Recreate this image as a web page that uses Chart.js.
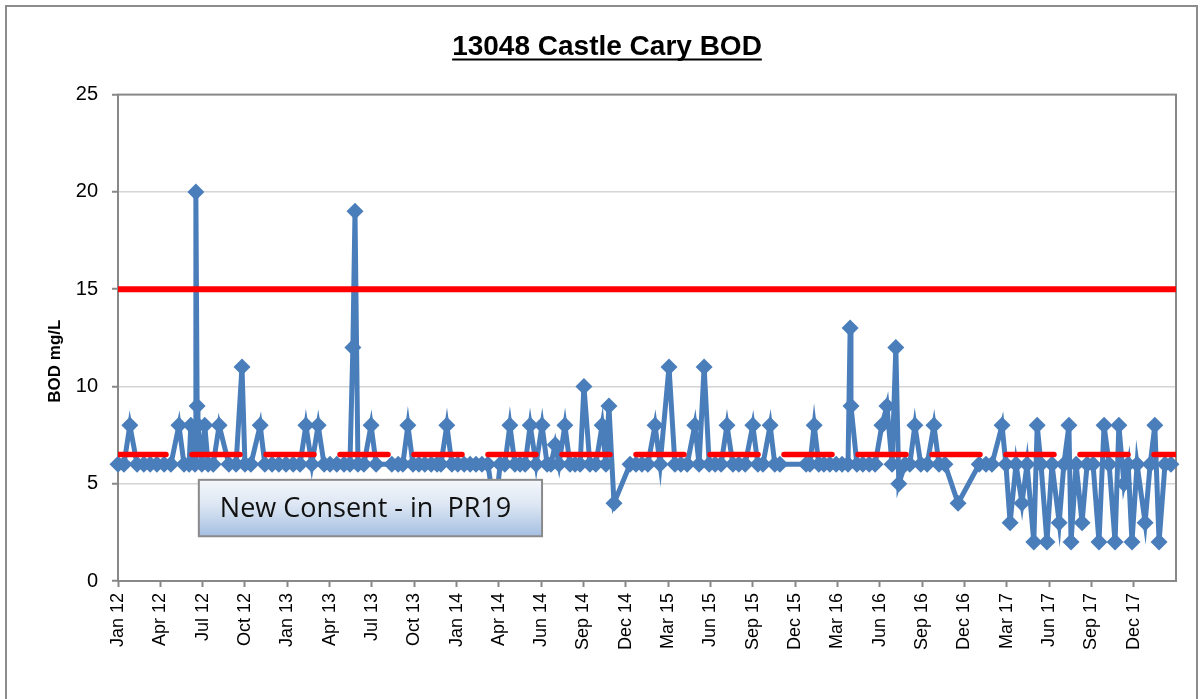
<!DOCTYPE html>
<html>
<head>
<meta charset="utf-8">
<title>13048 Castle Cary BOD</title>
<script src="https://cdn.jsdelivr.net/npm/chart.js@4.4.1/dist/chart.umd.min.js"></script>
<style>
  body { margin: 0; background: #fff; }
  #bod-chart { display: block; }
</style>
</head>
<body>
<canvas id="bod-chart" width="1203" height="699"></canvas>
<script>
// axis labels, one per major tick
const tickLabels = ['Jan 12', 'Apr 12', 'Jul 12', 'Oct 12', 'Jan 13', 'Apr 13', 'Jul 13', 'Oct 13',
  'Jan 14', 'Apr 14', 'Jun 14', 'Sep 14', 'Dec 14', 'Mar 15', 'Jun 15', 'Sep 15', 'Dec 15',
  'Mar 16', 'Jun 16', 'Sep 16', 'Dec 16', 'Mar 17', 'Jun 17', 'Sep 17', 'Dec 17'];

// sample position along the axis (1 unit = one labelled tick) and BOD result in mg/L
const sampleT = [
  0.00, 0.14, 0.28, 0.45, 0.61, 0.76, 0.92, 1.09, 1.25, 1.44, 1.56, 1.68, 1.72, 1.82, 1.84, 1.87,
  1.89, 1.98, 2.05, 2.13, 2.25, 2.39, 2.62, 2.79, 2.93, 3.00, 3.14, 3.36, 3.47, 3.64, 3.80, 3.97,
  4.14, 4.30, 4.44, 4.58, 4.73, 4.87, 5.01, 5.17, 5.34, 5.48, 5.55, 5.60, 5.67, 5.81, 5.98, 6.10,
  6.47, 6.62, 6.73, 6.85, 6.97, 7.11, 7.25, 7.40, 7.54, 7.63, 7.77, 7.89, 8.03, 8.18, 8.32, 8.46,
  8.60, 8.74, 8.91, 9.03, 9.14, 9.26, 9.38, 9.50, 9.62, 9.74, 9.88, 10.02, 10.14, 10.23, 10.33, 10.42,
  10.56, 10.68, 10.80, 10.92, 11.01, 11.15, 11.29, 11.44, 11.53, 11.60, 11.72, 12.10, 12.24, 12.38, 12.52, 12.69,
  12.81, 13.02, 13.16, 13.30, 13.45, 13.63, 13.73, 13.85, 13.97, 14.11, 14.25, 14.39, 14.53, 14.67, 14.82, 15.00,
  15.12, 15.24, 15.41, 15.52, 15.64, 16.26, 16.35, 16.45, 16.56, 16.68, 16.82, 16.97, 17.11, 17.25, 17.30, 17.32,
  17.46, 17.60, 17.75, 17.89, 18.05, 18.17, 18.29, 18.38, 18.45, 18.60, 18.71, 18.83, 18.97, 19.12, 19.28, 19.40,
  19.54, 19.85, 20.35, 20.51, 20.65, 20.89, 20.98, 21.08, 21.22, 21.36, 21.48, 21.64, 21.72, 21.81, 21.95, 22.07,
  22.24, 22.35, 22.47, 22.52, 22.64, 22.78, 22.90, 23.04, 23.18, 23.30, 23.42, 23.56, 23.65, 23.77, 23.87, 23.96,
  24.08, 24.27, 24.39, 24.50, 24.60, 24.74, 24.88
];
const bod = [
  6, 6, 8, 6, 6, 6, 6, 6, 6, 8, 6, 6, 8, 6, 20, 9,
  8, 6, 8, 6, 6, 8, 6, 6, 11, 6, 6, 8, 6, 6, 6, 6,
  6, 6, 8, 6, 8, 6, 6, 6, 6, 6, 12, 19, 6, 6, 8, 6,
  6, 6, 6, 8, 6, 6, 6, 6, 6, 6, 8, 6, 6, 6, 6, 6,
  6, 6, 3.5, 6, 6, 8, 6, 6, 6, 8, 6, 8, 6, 6, 7, 6,
  8, 6, 6, 6, 10, 6, 6, 8, 6, 9, 4, 6, 6, 6, 6, 8,
  6, 11, 6, 6, 6, 8, 6, 11, 6, 6, 6, 8, 6, 6, 6, 8,
  6, 6, 8, 6, 6, 6, 6, 8, 6, 6, 6, 6, 6, 6, 13, 9,
  6, 6, 6, 6, 8, 9, 6, 12, 5, 6, 6, 8, 6, 6, 8, 6,
  6, 4, 6, 6, 6, 8, 6, 3, 6, 4, 6, 2, 8, 6, 2, 6,
  3, 6, 8, 2, 6, 3, 6, 6, 2, 8, 6, 2, 8, 5, 6, 2,
  6, 3, 6, 8, 2, 6, 6
];

const currentConsent = 15;   // mg/L
const newConsent = 6.5;      // mg/L, PR19
const axisEnd = tickLabels.length;

const blue = '#4a7ebb';
const red = '#ff0000';
const frameGrey = '#888888';
const arial = 'Arial, "Liberation Sans", sans-serif';

const canvas = document.getElementById('bod-chart');
const ctx = canvas.getContext('2d');

// plot frame, outer border, title underline, y title and the callout box
const decorations = {
  id: 'decorations',
  beforeDatasetsDraw(chart) {
    const a = chart.chartArea;
    const c = chart.ctx;
    c.save();
    c.strokeStyle = frameGrey;
    c.lineWidth = 2;
    c.strokeRect(a.left, a.top, a.right - a.left, a.bottom - a.top);
    c.restore();
  },
  afterDraw(chart) {
    const c = chart.ctx;
    const x = chart.scales.x;
    const y = chart.scales.y;
    c.save();

    // outer chart border
    c.strokeStyle = '#8c8c8c';
    c.lineWidth = 2;
    c.strokeRect(6, 6, 1191, 760);

    // underline the title
    const tb = chart.titleBlock;
    const titleFont = chart.options.plugins.title.font;
    c.font = `bold ${titleFont.size}px ${titleFont.family}`;
    const tw = c.measureText(chart.options.plugins.title.text).width;
    const cx = (tb.left + tb.right) / 2;
    const uy = tb.top + tb.options.padding.top + titleFont.size * 1.2 / 2 + titleFont.size * 0.45;
    c.strokeStyle = '#000';
    c.lineWidth = 2;
    c.beginPath();
    c.moveTo(cx - tw / 2, uy);
    c.lineTo(cx + tw / 2, uy);
    c.stroke();

    // y axis title, sitting a little below the middle of the axis as in the original
    c.save();
    c.translate(55, y.getPixelForValue(11.3));
    c.rotate(-Math.PI / 2);
    c.font = `bold 17px ${arial}`;
    c.fillStyle = '#000';
    c.textAlign = 'center';
    c.textBaseline = 'middle';
    c.fillText('BOD mg/L', 0, 0);
    c.restore();

    // "New Consent" callout
    const bx0 = x.getPixelForValue(1.91), bx1 = x.getPixelForValue(10.02);
    const by0 = y.getPixelForValue(5.2), by1 = y.getPixelForValue(2.3);
    const g = c.createLinearGradient(0, by0, 0, by1);
    g.addColorStop(0, '#f4f7fb');
    g.addColorStop(0.45, '#dce6f3');
    g.addColorStop(1, '#a4bfe1');
    c.fillStyle = g;
    c.fillRect(bx0, by0, bx1 - bx0, by1 - by0);
    c.strokeStyle = '#8a8a8a';
    c.lineWidth = 2;
    c.strokeRect(bx0, by0, bx1 - bx0, by1 - by0);
    c.fillStyle = '#111';
    c.font = '27px "Open Sans"';
    c.textBaseline = 'middle';
    c.fillText('New Consent - in  PR19', bx0 + 21, (by0 + by1) / 2 + 1);
    c.restore();
  }
};

new Chart(ctx, {
  type: 'line',
  data: {
    datasets: [
      {
        label: 'Current consent',
        data: [{ x: 0, y: currentConsent }, { x: axisEnd, y: currentConsent }],
        borderColor: red,
        borderWidth: 6,
        pointRadius: 0,
        order: 0
      },
      {
        label: 'New consent',
        data: [{ x: 0, y: newConsent }, { x: axisEnd, y: newConsent }],
        borderColor: red,
        borderWidth: 5.5,
        borderDash: [48, 26],
        borderCapStyle: 'round',
        pointRadius: 0,
        order: 1
      },
      {
        label: 'BOD',
        data: sampleT.map((t, i) => ({ x: t, y: bod[i] })),
        borderColor: blue,
        backgroundColor: blue,
        borderWidth: 5,
        pointStyle: 'rectRot',
        pointRadius: 8.5,
        pointBorderWidth: 0,
        tension: 0,
        clip: false,
        order: 2
      }
    ]
  },
  options: {
    responsive: false,
    animation: false,
    layout: { padding: { left: 38, right: 27, top: 0, bottom: 0 } },
    plugins: {
      legend: { display: false },
      tooltip: { enabled: false },
      title: {
        display: true,
        text: '13048 Castle Cary BOD',
        color: '#000',
        font: { family: arial, size: 28, weight: 'bold' },
        padding: { top: 30, bottom: 31 }
      }
    },
    scales: {
      x: {
        type: 'linear',
        min: 0,
        max: axisEnd,
        afterBuildTicks(scale) {
          scale.ticks = tickLabels.map((_, i) => ({ value: i }));
        },
        afterFit(scale) { scale.height = 118; },
        ticks: {
          autoSkip: false,
          minRotation: 90,
          maxRotation: 90,
          padding: 6,
          color: '#000',
          font: { family: arial, size: 18 },
          callback: (v) => tickLabels[v] || ''
        },
        grid: { drawOnChartArea: false, drawTicks: true, tickLength: 6, tickColor: frameGrey, tickWidth: 2 },
        border: { color: frameGrey, width: 2 }
      },
      y: {
        min: 0,
        max: 25,
        afterFit(scale) { scale.width = 80; },
        ticks: {
          stepSize: 5,
          padding: 14,
          color: '#000',
          font: { family: arial, size: 20 }
        },
        grid: {
          color: (c) => (c.tick.value === 0 || c.tick.value === 25) ? 'rgba(0,0,0,0)' : '#d4d4d4',
          lineWidth: 1.5,
          drawTicks: true,
          tickLength: 6,
          tickColor: frameGrey,
          tickWidth: 2
        },
        border: { color: frameGrey, width: 2 }
      }
    }
  },
  plugins: [decorations]
});
</script>
</body>
</html>
